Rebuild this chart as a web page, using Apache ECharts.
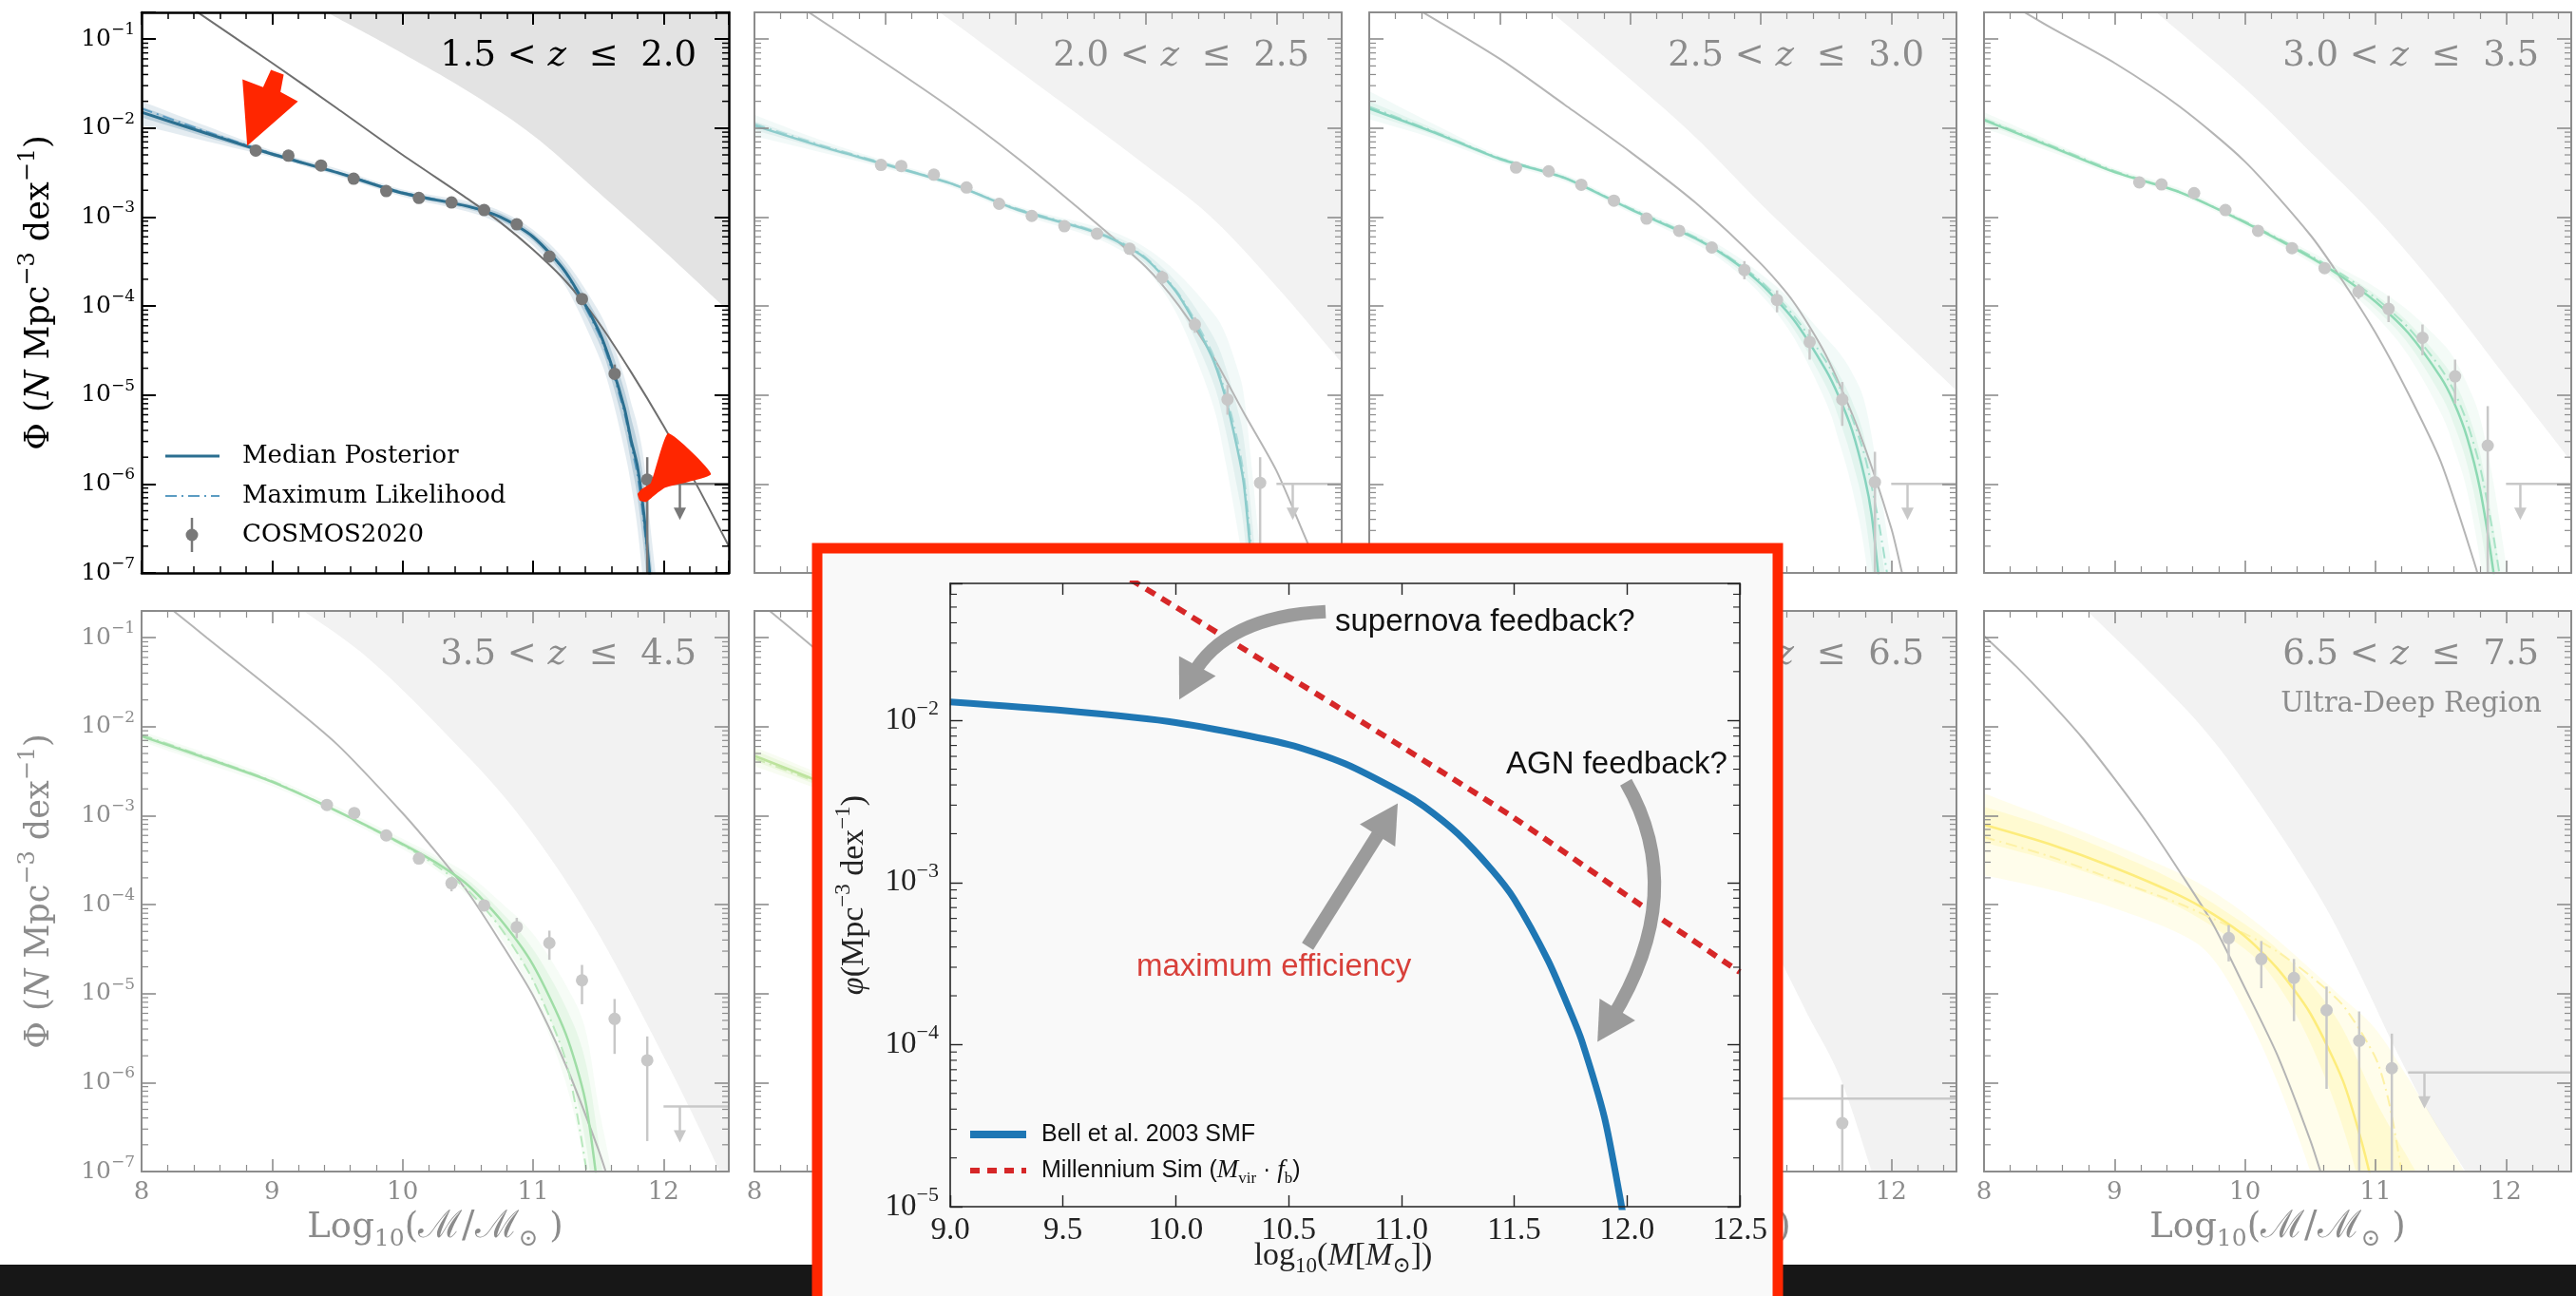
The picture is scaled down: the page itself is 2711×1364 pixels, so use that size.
<!DOCTYPE html>
<html><head><meta charset="utf-8"><title>Stellar mass functions</title>
<script src="https://cdn.jsdelivr.net/npm/echarts@6.0.0/dist/echarts.min.js"></script>
<style>html,body{margin:0;padding:0;background:#ffffff;}#chart{width:2711px;height:1364px;}</style>
</head><body><div id="chart"></div>
<script>
// ---------------- tick labels / categories ----------------
const massTicks = [8, 9, 10, 11, 12];
const insetMassTicks = [9.0, 9.5, 10.0, 10.5, 11.0, 11.5, 12.0, 12.5];
const zLow  = ['1.5', '2.0', '2.5', '3.0', '3.5', '4.5', '5.5', '6.5'];
const zHigh = ['2.0', '2.5', '3.0', '3.5', '4.5', '5.5', '6.5', '7.5'];
const legendLabels = ['Median Posterior', 'Maximum Likelihood', 'COSMOS2020'];

// ---------------- panel 1 : 1.5 < z <= 2.0 ----------------
const p1Median = [[8.0,1.51e-2],[8.5,8.7e-3],[9.0,5.1e-3],[9.5,3.16e-3],[10.0,1.86e-3],[10.5,1.32e-3],[10.75,1.0e-3],[11.0,6.0e-4],[11.25,2.4e-4],[11.5,5.4e-5],[11.6,2.2e-5],[11.7,7.1e-6],[11.75,3.16e-6],[11.8,1.58e-6],[11.85,4.5e-7],[11.9,7.9e-8],[12.0,2.5e-9]];
const p1MaxLike = [[8.0,1.66e-2],[8.5,9.1e-3],[9.0,5.2e-3],[9.5,3.16e-3],[10.0,1.9e-3],[10.5,1.32e-3],[10.75,1.0e-3],[11.0,6.0e-4],[11.25,2.34e-4],[11.5,5.0e-5],[11.6,2.0e-5],[11.7,6.3e-6],[11.75,2.8e-6],[11.8,1.26e-6],[11.85,3.55e-7],[11.9,6.3e-8]];
const p1Band68 = [[8.0,1.32e-2,1.74e-2],[8.5,7.9e-3,9.5e-3],[9.0,4.9e-3,5.4e-3],[9.5,3.0e-3,3.3e-3],[10.0,1.78e-3,1.95e-3],[10.5,1.23e-3,1.41e-3],[10.75,9.1e-4,1.1e-3],[11.0,5.4e-4,6.6e-4],[11.25,2.0e-4,2.8e-4],[11.5,4.0e-5,7.1e-5],[11.6,1.5e-5,3.16e-5],[11.7,4.2e-6,1.12e-5],[11.75,1.78e-6,5.6e-6],[11.8,7.1e-7,2.8e-6],[11.85,1.78e-7,1.0e-6],[11.9,3.2e-8,1.58e-7],[12.0,1e-9,6.3e-9]];
const p1Band95 = [[8.0,1.07e-2,2.0e-2],[8.5,7.1e-3,1.05e-2],[9.0,4.7e-3,5.6e-3],[9.5,2.9e-3,3.5e-3],[10.0,1.7e-3,2.04e-3],[10.5,1.15e-3,1.51e-3],[10.75,8.3e-4,1.17e-3],[11.0,4.8e-4,7.2e-4],[11.25,1.66e-4,3.2e-4],[11.5,2.8e-5,8.9e-5],[11.6,1.0e-5,4.2e-5],[11.7,2.4e-6,1.58e-5],[11.75,1.0e-6,8.3e-6],[11.8,3.2e-7,4.5e-6],[11.85,6.3e-8,1.78e-6],[11.9,1.26e-8,3.2e-7],[12.0,3.2e-10,1.58e-8]];
const p1Halo = [[8.3,2.7e-1],[9.0,5.4e-2],[9.5,1.66e-2],[10.0,5.0e-3],[10.5,1.6e-3],[10.75,8.7e-4],[11.0,4.3e-4],[11.25,1.9e-4],[11.5,6.6e-5],[11.75,1.82e-5],[12.0,4.5e-6],[12.25,1.0e-6],[12.5,2.0e-7]];
const p1Shade = [[9.3,2.5e-1],[9.42,2.0e-1],[9.75,1.1e-1],[10.0,6.9e-2],[10.5,2.6e-2],[11.0,8.3e-3],[11.5,1.9e-3],[12.0,4.2e-4],[12.5,8.7e-5]];
const p1Points = [[8.875,5.6e-3,5.3e-3,5.9e-3],[9.125,4.9e-3,4.7e-3,5.1e-3],[9.375,3.8e-3,3.6e-3,4.0e-3],[9.625,2.7e-3,2.6e-3,2.85e-3],[9.875,1.96e-3,1.87e-3,2.05e-3],[10.125,1.64e-3,1.56e-3,1.72e-3],[10.375,1.46e-3,1.39e-3,1.53e-3],[10.625,1.2e-3,1.14e-3,1.26e-3],[10.875,8.3e-4,7.8e-4,8.8e-4],[11.125,3.6e-4,3.3e-4,3.9e-4],[11.375,1.2e-4,1.08e-4,1.32e-4],[11.625,1.73e-5,1.5e-5,2.2e-5],[11.875,1.12e-6,5e-8,2.0e-6]];
const p1Limit = [[12.0,12.5,12.125,1.0e-6]];

// ---------------- panel 2 : 2.0 < z <= 2.5 ----------------
const p2Median = [[8.0,1.07e-2],[8.5,6.3e-3],[9.0,3.9e-3],[9.5,2.4e-3],[10.0,1.23e-3],[10.5,7.6e-4],[10.75,5.6e-4],[11.0,3.4e-4],[11.25,1.32e-4],[11.5,2.8e-5],[11.6,1.05e-5],[11.7,2.5e-6],[11.75,1.0e-6],[11.8,1.78e-7],[11.85,2.5e-8]];
const p2MaxLike = [[8.0,1.12e-2],[8.5,6.5e-3],[9.0,4.0e-3],[9.5,2.4e-3],[10.0,1.26e-3],[10.5,7.8e-4],[10.75,5.75e-4],[11.0,3.5e-4],[11.25,1.38e-4],[11.5,3.16e-5],[11.6,1.2e-5],[11.7,3.16e-6],[11.75,1.26e-6],[11.8,2.5e-7],[11.85,4.0e-8]];
const p2Band68 = [[8.0,9.5e-3,1.2e-2],[8.5,5.9e-3,6.8e-3],[9.0,3.7e-3,4.1e-3],[9.5,2.3e-3,2.5e-3],[10.0,1.17e-3,1.29e-3],[10.5,7.1e-4,8.1e-4],[10.75,5.1e-4,6.2e-4],[11.0,2.95e-4,3.9e-4],[11.25,1.0e-4,1.74e-4],[11.5,1.58e-5,5.0e-5],[11.6,4.7e-6,2.3e-5],[11.7,8.9e-7,7.1e-6],[11.75,3.2e-7,3.2e-6],[11.8,5.0e-8,6.3e-7],[11.85,6.3e-9,1.0e-7],[11.9,1e-9,1.6e-8]];
const p2Band95 = [[8.0,8.1e-3,1.41e-2],[8.5,5.4e-3,7.4e-3],[9.0,3.55e-3,4.3e-3],[9.5,2.2e-3,2.6e-3],[10.0,1.12e-3,1.35e-3],[10.5,6.6e-4,8.7e-4],[10.75,4.7e-4,6.8e-4],[11.0,2.6e-4,4.5e-4],[11.25,7.4e-5,2.3e-4],[11.5,8.9e-6,8.9e-5],[11.6,2.1e-6,5.2e-5],[11.7,3.2e-7,2.0e-5],[11.75,1.0e-7,1.0e-5],[11.8,1.4e-8,2.2e-6],[11.85,1.6e-9,4.0e-7],[11.9,2.5e-10,6.3e-8]];
const p2Halo = [[8.3,2.6e-1],[9.0,5.4e-2],[9.5,1.7e-2],[10.0,4.8e-3],[10.5,1.2e-3],[11.0,2.75e-4],[11.25,1.02e-4],[11.5,2.95e-5],[11.75,6.3e-6],[12.0,1.41e-6],[12.25,2.0e-7],[12.5,3.2e-8]];
const p2Shade = [[9.3,2.5e-1],[9.42,2.0e-1],[10.0,4.7e-2],[10.5,1.35e-2],[11.0,3.8e-3],[11.5,1.0e-3],[12.0,1.66e-4],[12.5,2.3e-5]];
const p2Points = [[8.97,3.86e-3,3.7e-3,4.0e-3],[9.125,3.75e-3,3.6e-3,3.9e-3],[9.375,3.0e-3,2.9e-3,3.1e-3],[9.625,2.15e-3,2.07e-3,2.23e-3],[9.875,1.41e-3,1.35e-3,1.47e-3],[10.125,1.03e-3,9.8e-4,1.08e-3],[10.375,7.9e-4,7.5e-4,8.3e-4],[10.625,6.5e-4,6.1e-4,6.9e-4],[10.875,4.4e-4,4.0e-4,4.8e-4],[11.125,2.1e-4,1.75e-4,2.5e-4],[11.375,6.2e-5,5.0e-5,7.5e-5],[11.625,8.9e-6,6.0e-6,1.3e-5],[11.875,1.03e-6,5e-8,2.0e-6]];
const p2Limit = [[12.0,12.5,12.125,1.0e-6]];

// ---------------- panel 3 : 2.5 < z <= 3.0 ----------------
const p3Median = [[8.0,1.66e-2],[8.5,8.9e-3],[9.0,4.5e-3],[9.5,2.75e-3],[10.0,1.23e-3],[10.5,5.75e-4],[10.75,3.5e-4],[11.0,1.78e-4],[11.25,7.1e-5],[11.5,1.9e-5],[11.6,9.5e-6],[11.7,4.0e-6],[11.8,1.12e-6],[11.85,4.5e-7],[11.9,1.0e-7],[12.0,5e-9]];
const p3MaxLike = [[8.0,1.74e-2],[8.5,9.1e-3],[9.0,4.6e-3],[9.5,2.75e-3],[10.0,1.26e-3],[10.5,5.9e-4],[10.75,3.6e-4],[11.0,1.9e-4],[11.25,7.9e-5],[11.5,2.4e-5],[11.6,1.26e-5],[11.7,5.6e-6],[11.8,2.0e-6],[11.9,4.0e-7],[12.0,5.0e-8]];
const p3Band68 = [[8.0,1.45e-2,2.0e-2],[8.5,8.3e-3,9.8e-3],[9.0,4.3e-3,4.7e-3],[9.5,2.6e-3,2.9e-3],[10.0,1.17e-3,1.29e-3],[10.5,5.4e-4,6.2e-4],[10.75,3.16e-4,3.8e-4],[11.0,1.55e-4,2.0e-4],[11.25,5.6e-5,8.9e-5],[11.5,1.26e-5,2.9e-5],[11.6,5.4e-6,1.7e-5],[11.7,1.86e-6,8.5e-6],[11.8,4.3e-7,3.0e-6],[11.9,2.8e-8,3.5e-7],[12.0,1e-9,2.5e-8]];
const p3Band95 = [[8.0,1.26e-2,2.6e-2],[8.5,7.6e-3,1.1e-2],[9.0,4.1e-3,4.9e-3],[9.5,2.5e-3,3.0e-3],[10.0,1.12e-3,1.35e-3],[10.5,5.0e-4,6.6e-4],[10.75,2.9e-4,4.2e-4],[11.0,1.35e-4,2.3e-4],[11.25,4.5e-5,1.12e-4],[11.5,8.3e-6,4.4e-5],[11.6,3.0e-6,3.0e-5],[11.7,8.9e-7,1.78e-5],[11.8,1.58e-7,7.9e-6],[11.9,7.9e-9,1.26e-6],[12.0,2e-10,1.26e-7]];
const p3Halo = [[8.3,2.5e-1],[9.0,6.0e-2],[9.5,1.82e-2],[10.0,5.4e-3],[10.5,1.45e-3],[11.0,3.0e-4],[11.25,1.12e-4],[11.5,2.8e-5],[11.75,4.0e-6],[12.0,3.2e-7],[12.1,7.9e-8],[12.25,1.26e-8]];
const p3Shade = [[9.3,2.6e-1],[9.4,2.0e-1],[10.0,3.55e-2],[10.5,7.9e-3],[11.0,1.41e-3],[11.5,2.8e-4],[12.0,5.6e-5],[12.5,1.12e-5]];
const p3Points = [[9.125,3.6e-3,3.45e-3,3.75e-3],[9.375,3.27e-3,3.13e-3,3.4e-3],[9.625,2.31e-3,2.2e-3,2.42e-3],[9.875,1.53e-3,1.46e-3,1.6e-3],[10.125,9.6e-4,9.1e-4,1.01e-3],[10.375,7.0e-4,6.6e-4,7.4e-4],[10.625,4.55e-4,4.2e-4,4.9e-4],[10.875,2.54e-4,2.0e-4,3.2e-4],[11.125,1.17e-4,8.5e-5,1.5e-4],[11.375,3.94e-5,2.5e-5,5.5e-5],[11.625,8.9e-6,4.5e-6,1.4e-5],[11.875,1.05e-6,5e-8,2.3e-6]];
const p3Limit = [[12.0,12.5,12.125,1.0e-6]];

// ---------------- panel 4 : 3.0 < z <= 3.5 ----------------
const p4Median = [[8.0,1.23e-2],[8.5,6.3e-3],[9.0,3.2e-3],[9.5,1.9e-3],[10.0,8.7e-4],[10.5,3.55e-4],[10.75,2.1e-4],[11.0,1.12e-4],[11.25,5.0e-5],[11.5,1.58e-5],[11.6,8.3e-6],[11.7,3.4e-6],[11.8,8.9e-7],[11.9,1.12e-7],[12.0,7.9e-9]];
const p4MaxLike = [[8.0,1.26e-2],[8.5,6.5e-3],[9.0,3.3e-3],[9.5,1.9e-3],[10.0,8.9e-4],[10.5,3.7e-4],[10.75,2.24e-4],[11.0,1.23e-4],[11.25,5.75e-5],[11.5,2.0e-5],[11.6,1.12e-5],[11.7,5.0e-6],[11.8,1.58e-6],[11.9,2.8e-7],[12.0,3.2e-8]];
const p4Band68 = [[8.0,1.12e-2,1.35e-2],[8.5,5.9e-3,6.8e-3],[9.0,3.1e-3,3.4e-3],[9.5,1.82e-3,2.0e-3],[10.0,8.3e-4,9.1e-4],[10.5,3.3e-4,3.8e-4],[10.75,1.86e-4,2.34e-4],[11.0,9.3e-5,1.35e-4],[11.25,3.8e-5,6.6e-5],[11.5,1.0e-5,2.5e-5],[11.6,4.7e-6,1.48e-5],[11.7,1.7e-6,6.8e-6],[11.8,3.55e-7,2.24e-6],[11.9,3.55e-8,3.55e-7],[12.0,2e-9,3.2e-8]];
const p4Band95 = [[8.0,1.0e-2,1.51e-2],[8.5,5.5e-3,7.2e-3],[9.0,2.95e-3,3.55e-3],[9.5,1.74e-3,2.1e-3],[10.0,7.9e-4,9.5e-4],[10.5,3.1e-4,4.1e-4],[10.75,1.66e-4,2.6e-4],[11.0,7.8e-5,1.62e-4],[11.25,2.8e-5,8.9e-5],[11.5,6.3e-6,4.0e-5],[11.6,2.6e-6,2.6e-5],[11.7,8.5e-7,1.35e-5],[11.8,1.41e-7,5.6e-6],[11.9,1.12e-8,1.12e-6],[12.0,5e-10,1.26e-7]];
const p4Halo = [[8.2,2.5e-1],[8.5,1.38e-1],[9.0,5.4e-2],[9.5,1.74e-2],[10.0,4.2e-3],[10.5,6.3e-4],[10.75,1.9e-4],[11.0,5.0e-5],[11.25,1.05e-5],[11.5,1.78e-6],[11.75,1.41e-7],[11.9,2.5e-8]];
const p4Shade = [[9.2,2.8e-1],[9.32,2.0e-1],[10.0,2.8e-2],[10.5,5.4e-3],[11.0,1.0e-3],[11.5,1.41e-4],[12.0,1.58e-5],[12.5,1.78e-6]];
const p4Points = [[9.19,2.45e-3,2.35e-3,2.55e-3],[9.36,2.33e-3,2.23e-3,2.43e-3],[9.61,1.86e-3,1.78e-3,1.94e-3],[9.85,1.2e-3,1.14e-3,1.26e-3],[10.1,7.0e-4,6.6e-4,7.4e-4],[10.36,4.47e-4,4.2e-4,4.75e-4],[10.61,2.67e-4,2.45e-4,2.9e-4],[10.87,1.45e-4,1.2e-4,1.75e-4],[11.1,9.3e-5,6.6e-5,1.3e-4],[11.36,4.4e-5,2.8e-5,6.2e-5],[11.61,1.62e-5,8e-6,2.5e-5],[11.86,2.7e-6,1e-7,7.5e-6]];
const p4Limit = [[12.0,12.5,12.11,1.0e-6]];

// ---------------- panel 5 : 3.5 < z <= 4.5 ----------------
const p5Median = [[8.0,7.8e-3],[8.5,4.4e-3],[9.0,2.4e-3],[9.5,1.12e-3],[10.0,4.8e-4],[10.25,3.0e-4],[10.5,1.66e-4],[10.75,6.8e-5],[11.0,2.1e-5],[11.25,3.55e-6],[11.4,6.3e-7],[11.5,5.6e-8]];
const p5MaxLike = [[8.0,8.1e-3],[8.5,4.5e-3],[9.0,2.45e-3],[9.5,1.12e-3],[10.0,4.7e-4],[10.25,2.8e-4],[10.5,1.45e-4],[10.75,5.5e-5],[11.0,1.41e-5],[11.25,1.78e-6],[11.4,1.26e-7],[11.5,1e-8]];
const p5Band68 = [[8.0,7.2e-3,8.3e-3],[8.5,4.1e-3,4.7e-3],[9.0,2.3e-3,2.5e-3],[9.5,1.07e-3,1.17e-3],[10.0,4.5e-4,5.1e-4],[10.25,2.75e-4,3.3e-4],[10.5,1.45e-4,1.9e-4],[10.75,5.4e-5,8.5e-5],[11.0,1.38e-5,3.16e-5],[11.25,1.78e-6,7.1e-6],[11.4,2.24e-7,1.78e-6],[11.5,1.4e-8,2.24e-7],[11.6,5e-10,1.58e-8]];
const p5Band95 = [[8.0,6.8e-3,8.9e-3],[8.5,3.8e-3,5.0e-3],[9.0,2.14e-3,2.7e-3],[9.5,1.0e-3,1.26e-3],[10.0,4.2e-4,5.5e-4],[10.25,2.5e-4,3.6e-4],[10.5,1.26e-4,2.2e-4],[10.75,4.3e-5,1.07e-4],[11.0,9.3e-6,4.7e-5],[11.25,1.0e-6,1.26e-5],[11.4,1.0e-7,4.0e-6],[11.5,5.6e-9,5.6e-7],[11.6,2e-10,1.0e-7],[11.7,1e-11,1e-8]];
const p5Halo = [[8.1,2.95e-1],[8.245,2.0e-1],[8.5,1.0e-1],[9.0,2.6e-2],[9.5,6.3e-3],[10.0,1.07e-3],[10.25,4.0e-4],[10.5,1.38e-4],[10.75,3.8e-5],[11.0,9.5e-6],[11.25,1.58e-6],[11.5,1.78e-7],[11.6,6.3e-8]];
const p5Shade = [[9.1,2.8e-1],[9.24,2.0e-1],[9.73,6.0e-2],[10.3,9.3e-3],[10.88,1.07e-3],[11.45,6.3e-5],[12.03,1.62e-6],[12.43,1.0e-7],[12.6,2.5e-8]];
const p5Points = [[9.42,1.32e-3,1.26e-3,1.38e-3],[9.63,1.07e-3,1.02e-3,1.12e-3],[9.875,6.0e-4,5.7e-4,6.3e-4],[10.125,3.3e-4,3.1e-4,3.5e-4],[10.375,1.74e-4,1.41e-4,1.9e-4],[10.625,9.8e-5,8.7e-5,1.1e-4],[10.875,5.6e-5,4.2e-5,7.1e-5],[11.125,3.7e-5,2.4e-5,5.1e-5],[11.375,1.41e-5,7.6e-6,2.1e-5],[11.625,5.2e-6,2.1e-6,8.7e-6],[11.875,1.78e-6,2.2e-7,3.3e-6]];
const p5Limit = [[12.0,12.5,12.125,5.4e-7]];

// ---------------- panel 6 : 4.5 < z <= 5.5 (mostly behind the inset) ----------------
const p6Median = [[8.0,4.7e-3],[8.5,2.4e-3],[9.0,1.12e-3],[9.5,5.0e-4],[10.0,2.0e-4],[10.5,6.3e-5],[11.0,7.9e-6],[11.25,1.26e-6],[11.5,7.9e-8]];
const p6MaxLike = [[8.0,4.4e-3],[8.5,2.3e-3],[9.0,1.07e-3],[9.5,4.8e-4],[10.0,1.9e-4],[10.5,5.6e-5],[11.0,6.3e-6],[11.25,8.9e-7],[11.5,5.0e-8]];
const p6Band68 = [[8.0,4.1e-3,5.4e-3],[8.5,2.14e-3,2.7e-3],[9.0,1.02e-3,1.23e-3],[9.5,4.6e-4,5.5e-4],[10.0,1.74e-4,2.3e-4],[10.5,5.0e-5,7.9e-5],[11.0,4.5e-6,1.41e-5],[11.25,5.0e-7,3.16e-6],[11.5,2e-8,3.16e-7]];
const p6Band95 = [[8.0,3.6e-3,5.9e-3],[8.5,1.95e-3,2.95e-3],[9.0,9.5e-4,1.32e-3],[9.5,4.3e-4,5.9e-4],[10.0,1.51e-4,2.6e-4],[10.5,3.55e-5,1.12e-4],[11.0,2.5e-6,2.5e-5],[11.25,2e-7,7.9e-6],[11.5,5e-9,1e-6]];
const p6Halo = [[8.0,2.75e-1],[8.117,2.0e-1],[8.43,8.3e-2],[9.0,1.58e-2],[9.5,3.16e-3],[10.0,5.0e-4],[10.5,5.0e-5],[11.0,2.5e-6],[11.3,2.5e-7],[11.5,5e-8]];
const p6Shade = [[9.1,2.5e-1],[9.2,2.0e-1],[10.0,1.26e-2],[10.5,1.78e-3],[11.0,1.58e-4],[11.5,1e-5],[12.0,5e-7],[12.3,6.3e-8]];
const p6Points = [];
const p6Limit = [];

// ---------------- panel 7 : 5.5 < z <= 6.5 (mostly behind the inset) ----------------
const p7Median = [], p7MaxLike = [], p7Band68 = [], p7Band95 = [], p7Halo = [];
const p7Shade = [[9.0,2.5e-1],[10.0,6.3e-3],[10.5,6.3e-4],[11.0,6.3e-5],[11.17,2.1e-5],[11.36,5.8e-6],[11.61,1.12e-6],[11.85,1.0e-7],[12.0,2e-8]];
const p7Points = [[11.625,3.5e-7,5e-8,9.5e-7]];
const p7Limit = [[10.9,12.5,11.0,6.6e-7]];

// ---------------- panel 8 : 6.5 < z <= 7.5 ----------------
const p8Median = [[8.0,7.9e-4],[8.5,4.8e-4],[9.0,2.6e-4],[9.5,1.26e-4],[9.75,7.9e-5],[10.0,4.4e-5],[10.25,1.9e-5],[10.5,6.0e-6],[10.75,1.05e-6],[10.9,2.0e-7],[11.0,5.0e-8]];
const p8MaxLike = [[8.0,5.75e-4],[8.5,3.5e-4],[9.0,1.9e-4],[9.5,1.02e-4],[10.0,4.7e-5],[10.25,2.95e-5],[10.5,1.58e-5],[10.75,7.4e-6],[11.0,1.9e-6],[11.1,6.3e-7],[11.2,1.0e-7],[11.3,1e-8]];
const p8Band68 = [[8.0,5.0e-4,1.26e-3],[8.5,3.16e-4,7.4e-4],[9.0,1.78e-4,3.8e-4],[9.5,9.3e-5,1.74e-4],[10.0,3.16e-5,6.0e-5],[10.25,1.26e-5,3.16e-5],[10.5,2.8e-6,1.32e-5],[10.75,3.16e-7,4.0e-6],[11.0,1.58e-8,6.3e-7],[11.25,1e-9,1.41e-7],[11.35,3e-10,7.9e-8]];
const p8Band95 = [[8.0,2.14e-4,1.78e-3],[8.5,1.48e-4,9.3e-4],[9.0,9.1e-5,4.7e-4],[9.5,4.7e-5,2.24e-4],[9.75,2.5e-5,1.41e-4],[10.0,6.3e-6,7.9e-5],[10.25,1.0e-6,4.0e-5],[10.5,1.0e-7,1.9e-5],[10.75,6.3e-9,8.9e-6],[11.0,3e-10,4.0e-6],[11.25,3e-11,1.12e-6],[11.5,1e-11,2.8e-7],[11.7,3e-12,8.9e-8]];
const p8Halo = [[8.0,1.05e-1],[8.25,4.7e-2],[8.5,1.95e-2],[8.75,7.6e-3],[9.0,2.6e-3],[9.25,8.3e-4],[9.5,2.34e-4],[9.75,6.2e-5],[10.0,1.15e-5],[10.25,2.0e-6],[10.5,2.24e-7],[10.6,7.9e-8]];
const p8Shade = [[8.7,2.6e-1],[8.79,2.0e-1],[9.3,3.7e-2],[9.73,7.8e-3],[10.16,1.07e-3],[10.59,1.1e-4],[10.88,1.66e-5],[11.14,2.6e-6],[11.4,4.8e-7],[11.69,1.0e-7],[11.9,3.2e-8]];
const p8Points = [[9.875,4.2e-5,2.3e-5,5.9e-5],[10.125,2.45e-5,1.15e-5,3.9e-5],[10.375,1.5e-5,4.9e-6,2.45e-5],[10.625,6.5e-6,8.5e-7,1.2e-5],[10.875,2.95e-6,5e-8,6.3e-6],[11.125,1.45e-6,5e-8,3.55e-6]];
const p8Limit = [[11.25,12.5,11.375,1.3e-6]];

// ---------------- inset : Bell et al. 2003 vs Millennium ----------------
const bellSMF = [[9.0,1.3e-2],[9.5,1.15e-2],[10.0,9.7e-3],[10.5,7.1e-3],[10.75,5.4e-3],[11.0,3.6e-3],[11.1,2.95e-3],[11.25,2.0e-3],[11.4,1.2e-3],[11.5,7.9e-4],[11.65,3.3e-4],[11.75,1.58e-4],[11.8,1.05e-4],[11.9,3.55e-5],[11.97,1.12e-5],[12.0,6.3e-6]];
const millenniumSim = [[9.8,7.4e-2],[10.0,5.0e-2],[10.5,1.86e-2],[11.0,6.9e-3],[11.5,2.5e-3],[12.0,8.3e-4],[12.5,2.8e-4]];

// ---------------- assembly tables ----------------
const PANELS = [
  {median:p1Median, ml:p1MaxLike, b68:p1Band68, b95:p1Band95, halo:p1Halo, shade:p1Shade, pts:p1Points, lim:p1Limit},
  {median:p2Median, ml:p2MaxLike, b68:p2Band68, b95:p2Band95, halo:p2Halo, shade:p2Shade, pts:p2Points, lim:p2Limit},
  {median:p3Median, ml:p3MaxLike, b68:p3Band68, b95:p3Band95, halo:p3Halo, shade:p3Shade, pts:p3Points, lim:p3Limit},
  {median:p4Median, ml:p4MaxLike, b68:p4Band68, b95:p4Band95, halo:p4Halo, shade:p4Shade, pts:p4Points, lim:p4Limit},
  {median:p5Median, ml:p5MaxLike, b68:p5Band68, b95:p5Band95, halo:p5Halo, shade:p5Shade, pts:p5Points, lim:p5Limit},
  {median:p6Median, ml:p6MaxLike, b68:p6Band68, b95:p6Band95, halo:p6Halo, shade:p6Shade, pts:p6Points, lim:p6Limit},
  {median:p7Median, ml:p7MaxLike, b68:p7Band68, b95:p7Band95, halo:p7Halo, shade:p7Shade, pts:p7Points, lim:p7Limit},
  {median:p8Median, ml:p8MaxLike, b68:p8Band68, b95:p8Band95, halo:p8Halo, shade:p8Shade, pts:p8Points, lim:p8Limit}
];

// styles (kept separate from data)
const FIT_COLORS = ['#2b6f90','#8ccbcb','#86d3be','#8dd9b3','#9fdda6','#bde39d','#d9ea8e','#fdec7c'];
const ML_COLORS  = ['#5b9cc2','#a8d9d8','#a3dfcd','#a8e3c6','#b8e8bd','#cdeab3','#e3efb0','#fdf1a5'];
const B68_COLORS = ['rgba(43,111,144,0.22)','rgba(33,145,140,0.08)','rgba(39,173,129,0.08)','rgba(63,188,115,0.08)','rgba(94,201,98,0.09)','rgba(150,215,70,0.10)','rgba(200,225,50,0.10)','rgba(253,231,37,0.13)'];
const B95_COLORS = ['rgba(43,111,144,0.13)','rgba(33,145,140,0.06)','rgba(39,173,129,0.06)','rgba(63,188,115,0.06)','rgba(94,201,98,0.06)','rgba(150,215,70,0.07)','rgba(200,225,50,0.07)','rgba(253,231,37,0.09)'];

const COL_LEFT = [149, 794, 1441, 2088], ROW_TOP = [13, 643], PW = 618, PH = 590;
const INSET = {left: 1000, top: 614, width: 831, height: 656};
const SERIF = 'DejaVu Serif';
const ISERIF = "'Liberation Serif', 'DejaVu Serif', serif";
const ISANS = "'Liberation Sans', Arial, sans-serif";

function styleFor(i) {
  const on = i === 0;
  return {frame: on ? '#000000' : '#8c8c8c', frameW: on ? 2.5 : 2, tickW: on ? 2 : 1.6, minorW: on ? 1.5 : 1.2,
          text: on ? '#000000' : '#8c8c8c', halo: on ? '#6f6f6f' : '#b5b5b5', shade: on ? '#e3e3e3' : '#f2f2f2',
          pt: on ? '#787878' : '#c8c8c8'};
}

function powLabel(v) {
  const e = Math.log10(v), r = Math.round(e);
  if (Math.abs(e - r) > 1e-6) return '';
  return '{b|10}{s|\u2212' + Math.abs(r) + '}';
}

// Catmull-Rom smoothing of an already-projected pixel polyline (rendering only)
function crSmooth(pts, steps) {
  if (pts.length < 3) return pts.slice();
  const out = [];
  for (let i = 0; i < pts.length - 1; i++) {
    const p0 = pts[Math.max(0, i - 1)], p1 = pts[i], p2 = pts[i + 1], p3 = pts[Math.min(pts.length - 1, i + 2)];
    for (let s = 0; s < steps; s++) {
      const t = s / steps, t2 = t * t, t3 = t2 * t;
      out.push([0, 1].map(k => 0.5 * (2 * p1[k] + (-p0[k] + p2[k]) * t + (2 * p0[k] - 5 * p1[k] + 4 * p2[k] - p3[k]) * t2 + (-p0[k] + 3 * p1[k] - 3 * p2[k] + p3[k]) * t3)));
    }
  }
  out.push(pts[pts.length - 1].slice());
  return out;
}

function xAxisOpt(gi, pos, showLabel, st) {
  return {gridIndex: gi, type: 'value', position: pos, min: 8, max: 12.5, interval: 1, z: 10,
    axisLine: {show: true, onZero: false, lineStyle: {color: st.frame, width: st.frameW}},
    axisTick: {show: true, inside: true, length: 13, lineStyle: {color: st.frame, width: st.tickW}},
    minorTick: {show: true, splitNumber: 5, length: 7, lineStyle: {color: st.frame, width: st.minorW}},
    splitLine: {show: false}, minorSplitLine: {show: false},
    axisLabel: {show: showLabel, margin: 9, hideOverlap: false, fontFamily: SERIF, fontSize: 26, color: st.text,
      formatter: v => massTicks.indexOf(v) >= 0 ? String(v) : ''}
  };
}
function yAxisOpt(gi, pos, showLabel, st) {
  return {gridIndex: gi, type: 'log', logBase: 10, position: pos, min: 1e-7, max: 0.2, z: 10,
    axisLine: {show: true, onZero: false, lineStyle: {color: st.frame, width: st.frameW}},
    axisTick: {show: true, inside: true, length: 15, lineStyle: {color: st.frame, width: st.tickW}},
    minorTick: {show: false}, splitLine: {show: false},
    axisLabel: {show: showLabel, margin: 7, hideOverlap: false, formatter: powLabel,
      rich: {b: {fontFamily: SERIF, fontSize: 25, lineHeight: 36, color: st.text},
             s: {fontFamily: SERIF, fontSize: 17, lineHeight: 17, verticalAlign: 'top', color: st.text}}}
  };
}

function shadeSeries(ax, rows, color) {
  return {type: 'custom', xAxisIndex: ax, yAxisIndex: ax, z: 1, silent: true, clip: true, data: rows, encode: {x: 0, y: 1},
    renderItem(params, api) {
      if (params.dataIndex !== 0) return null;
      const cs = params.coordSys;
      const pts = crSmooth(rows.map(r => api.coord([r[0], r[1]])), 10);
      const last = pts[pts.length - 1];
      pts.push([cs.x + cs.width + 6, last[1]], [cs.x + cs.width + 6, cs.y - 6], [pts[0][0], cs.y - 6]);
      return {type: 'polygon', shape: {points: pts}, style: {fill: color}};
    }};
}
function bandSeries(ax, rows, color, z) {
  return {type: 'custom', xAxisIndex: ax, yAxisIndex: ax, z: z, silent: true, clip: true, data: rows, encode: {x: 0, y: [1, 2]},
    renderItem(params, api) {
      if (params.dataIndex !== 0) return null;
      const up = crSmooth(rows.map(r => api.coord([r[0], r[2]])), 8);
      const lo = crSmooth(rows.map(r => api.coord([r[0], r[1]])), 8).reverse();
      return {type: 'polygon', shape: {points: up.concat(lo)}, style: {fill: color}};
    }};
}
function lineSeries(ax, data, color, width, dash, z, zl) {
  return {type: 'line', xAxisIndex: ax, yAxisIndex: ax, data: data, showSymbol: false, symbol: 'none', smooth: 0.25,
    clip: true, z: z, zlevel: zl || 0, silent: true, lineStyle: {color: color, width: width, type: dash || 'solid'}};
}
function pointSeries(ax, rows, color) {
  return {type: 'custom', xAxisIndex: ax, yAxisIndex: ax, z: 6, silent: true, clip: true, data: rows, encode: {x: 0, y: [1, 2, 3]},
    renderItem(params, api) {
      const x = api.value(0);
      const c = api.coord([x, api.value(1)]), lo = api.coord([x, api.value(2)]), hi = api.coord([x, api.value(3)]);
      return {type: 'group', children: [
        {type: 'line', shape: {x1: c[0], y1: lo[1], x2: c[0], y2: hi[1]}, style: {stroke: color, lineWidth: 2.5}},
        {type: 'circle', shape: {cx: c[0], cy: c[1], r: 6.5}, style: {fill: color}}
      ]};
    }};
}
function limitSeries(ax, rows, color) {
  return {type: 'custom', xAxisIndex: ax, yAxisIndex: ax, z: 6, silent: true, clip: true, data: rows, encode: {x: [0, 1, 2], y: 3},
    renderItem(params, api) {
      const v = api.value(3);
      const a = api.coord([api.value(0), v]), b = api.coord([api.value(1), v]), m = api.coord([api.value(2), v]);
      return {type: 'group', children: [
        {type: 'line', shape: {x1: a[0], y1: a[1], x2: b[0], y2: b[1]}, style: {stroke: color, lineWidth: 2.5}},
        {type: 'line', shape: {x1: m[0], y1: m[1], x2: m[0], y2: m[1] + 28}, style: {stroke: color, lineWidth: 2.5}},
        {type: 'polygon', shape: {points: [[m[0] - 6.5, m[1] + 25], [m[0] + 6.5, m[1] + 25], [m[0], m[1] + 38]]}, style: {fill: color}}
      ]};
    }};
}
function minorTickSeries(ax, xRef, ymin, ymax, color, width, zl) {
  return {type: 'custom', xAxisIndex: ax, yAxisIndex: ax, z: 11, zlevel: zl || 0, silent: true, clip: false,
    data: [[xRef, ymin * 10]], encode: {x: 0, y: 1},
    renderItem(params, api) {
      const cs = params.coordSys, ch = [];
      for (let e = -9; e <= 0; e++) {
        for (let k = 2; k <= 9; k++) {
          const v = k * Math.pow(10, e);
          if (v <= ymin * 1.0001 || v >= ymax * 0.9999) continue;
          const y = api.coord([xRef, v])[1];
          ch.push({type: 'line', shape: {x1: cs.x, y1: y, x2: cs.x + 7, y2: y}, style: {stroke: color, lineWidth: width}});
          ch.push({type: 'line', shape: {x1: cs.x + cs.width - 7, y1: y, x2: cs.x + cs.width, y2: y}, style: {stroke: color, lineWidth: width}});
        }
      }
      return {type: 'group', children: ch};
    }};
}

// ---------------- build option ----------------
const grids = [], xAxes = [], yAxes = [], series = [];
for (let i = 0; i < 8; i++) {
  const st = styleFor(i), row = Math.floor(i / 4), col = i % 4, ax = 2 * i, P = PANELS[i];
  grids.push({left: COL_LEFT[col], top: ROW_TOP[row], width: PW, height: PH, outerBoundsMode: 'none'});
  xAxes.push(xAxisOpt(i, 'bottom', row === 1, st), xAxisOpt(i, 'top', false, st));
  yAxes.push(yAxisOpt(i, 'left', col === 0, st), yAxisOpt(i, 'right', false, st));
  if (P.shade.length) series.push(shadeSeries(ax, P.shade, st.shade));
  if (P.b95.length) series.push(bandSeries(ax, P.b95, B95_COLORS[i], 2));
  if (P.b68.length) series.push(bandSeries(ax, P.b68, B68_COLORS[i], 2));
  if (P.halo.length) series.push(lineSeries(ax, P.halo, st.halo, 2, null, 3));
  if (P.ml.length) series.push(lineSeries(ax, P.ml, ML_COLORS[i], 2, [12, 5, 2, 5], 4));
  if (P.median.length) series.push(lineSeries(ax, P.median, FIT_COLORS[i], i === 0 ? 3 : 2.5, null, 4));
  if (P.pts.length) series.push(pointSeries(ax, P.pts, st.pt));
  if (P.lim.length) series.push(limitSeries(ax, P.lim, st.pt));
  series.push(minorTickSeries(ax, 8.5, 1e-7, 0.2, st.frame, st.minorW));
}
// inset grid (index 8, axes 16/17)
const IST = {frame: '#222222', frameW: 1.6, tickW: 1.4, minorW: 1.1, text: '#222222'};
grids.push({left: INSET.left, top: INSET.top, width: INSET.width, height: INSET.height, zlevel: 1, outerBoundsMode: 'none'});
function insetX(pos, showLabel) {
  return {gridIndex: 8, type: 'value', position: pos, min: 9, max: 12.5, interval: 0.5, z: 10, zlevel: 1,
    axisLine: {show: true, onZero: false, lineStyle: {color: IST.frame, width: IST.frameW}},
    axisTick: {show: true, inside: true, length: 12, lineStyle: {color: IST.frame, width: IST.tickW}},
    minorTick: {show: false}, splitLine: {show: false},
    axisLabel: {show: showLabel, margin: 9, hideOverlap: false, fontFamily: ISERIF, fontSize: 33, color: IST.text,
      formatter: v => insetMassTicks.some(t => Math.abs(t - v) < 1e-9) ? v.toFixed(1) : ''}};
}
function insetY(pos, showLabel) {
  return {gridIndex: 8, type: 'log', logBase: 10, position: pos, min: 1e-5, max: 0.07, z: 10, zlevel: 1,
    axisLine: {show: true, onZero: false, lineStyle: {color: IST.frame, width: IST.frameW}},
    axisTick: {show: true, inside: true, length: 13, lineStyle: {color: IST.frame, width: IST.tickW}},
    minorTick: {show: false}, splitLine: {show: false},
    axisLabel: {show: showLabel, margin: 12, hideOverlap: false, formatter: powLabel,
      rich: {b: {fontFamily: ISERIF, fontSize: 33, lineHeight: 46, color: IST.text},
             s: {fontFamily: ISERIF, fontSize: 22, lineHeight: 22, verticalAlign: 'top', color: IST.text}}}};
}
xAxes.push(insetX('bottom', true), insetX('top', false));
yAxes.push(insetY('left', true), insetY('right', false));
series.push(lineSeries(16, bellSMF, '#1f77b4', 7, null, 4, 1));
series.push(lineSeries(16, millenniumSim, '#d62728', 6, [11, 8], 4, 1));
series.push(minorTickSeries(16, 9.5, 1e-5, 0.07, IST.frame, IST.minorW, 1));

const chart = echarts.init(document.getElementById('chart'), null, {renderer: 'canvas', width: 2711, height: 1364});
chart.setOption({animation: false, backgroundColor: '#ffffff', grid: grids, xAxis: xAxes, yAxis: yAxes, series: series});

// ---------------- annotations (graphic) ----------------
function px(ax, x, y) { return chart.convertToPixel({xAxisIndex: ax, yAxisIndex: ax}, [x, y]); }
const G = [];
function text(x, y, str, rich, opts) {
  const o = Object.assign({align: 'left', verticalAlign: 'middle', rotation: 0, zlevel: 0, z: 30}, opts || {});
  G.push({type: 'text', x: x, y: y, rotation: o.rotation, zlevel: o.zlevel, z: o.z, silent: true,
    style: {text: str, rich: rich, align: o.align, verticalAlign: o.verticalAlign, fill: o.fill || '#000',
            fontFamily: o.fontFamily || SERIF, fontSize: o.fontSize || 26}});
}
// redshift labels
for (let i = 0; i < 8; i++) {
  const st = styleFor(i), row = Math.floor(i / 4), col = i % 4;
  const R = COL_LEFT[col] + PW - 34, Y = ROW_TOP[row] + 46;
  text(R, Y, '{n|' + zLow[i] + ' < }{i|z}{n|  \u2264  ' + zHigh[i] + '}', {
    n: {fontFamily: SERIF, fontSize: 37, fill: st.text},
    i: {fontFamily: SERIF, fontStyle: 'italic', fontSize: 37, fill: st.text}}, {align: 'right'});
}
text(COL_LEFT[3] + PW - 31, ROW_TOP[1] + 98, 'Ultra-Deep Region', null, {align: 'right', fill: '#8c8c8c', fontSize: 29});

// axis names
function yName(cx, cy, color) {
  text(cx, cy, '{r|\u03a6 (}{i|N}{r| Mpc}{s|\u22123}{r| dex}{s|\u22121}{r|)}', {
    r: {fontFamily: SERIF, fontSize: 35, lineHeight: 48, fill: color},
    i: {fontFamily: SERIF, fontStyle: 'italic', fontSize: 35, lineHeight: 48, fill: color},
    s: {fontFamily: SERIF, fontSize: 24, lineHeight: 24, verticalAlign: 'top', fill: color}},
    {align: 'center', rotation: Math.PI / 2});
}
yName(42, ROW_TOP[0] + PH / 2, '#000000');
yName(42, ROW_TOP[1] + PH / 2, '#8c8c8c');
for (let c = 0; c < 4; c++) {
  text(COL_LEFT[c] + PW / 2, 1292, '{r|Log}{sub|10}{r|(}{m|\u2133/\u2133}{sub|\u2299}{r| )}', {
    r: {fontFamily: SERIF, fontSize: 37, lineHeight: 50, fill: '#8c8c8c'},
    m: {fontFamily: SERIF, fontSize: 40, lineHeight: 50, fill: '#8c8c8c'},
    sub: {fontFamily: SERIF, fontSize: 25, lineHeight: 25, verticalAlign: 'bottom', fill: '#8c8c8c'}},
    {align: 'center'});
}

// panel-1 legend
const lgX = COL_LEFT[0] + 25, lgT = COL_LEFT[0] + 106, lgY = [480, 522, 563];
G.push({type: 'line', z: 30, silent: true, shape: {x1: lgX, y1: lgY[0], x2: lgX + 57, y2: lgY[0]}, style: {stroke: FIT_COLORS[0], lineWidth: 3}});
G.push({type: 'line', z: 30, silent: true, shape: {x1: lgX, y1: lgY[1], x2: lgX + 57, y2: lgY[1]}, style: {stroke: ML_COLORS[0], lineWidth: 2.2, lineDash: [12, 5, 2, 5]}});
G.push({type: 'line', z: 30, silent: true, shape: {x1: lgX + 28, y1: lgY[2] - 18, x2: lgX + 28, y2: lgY[2] + 18}, style: {stroke: '#787878', lineWidth: 2.5}});
G.push({type: 'circle', z: 30, silent: true, shape: {cx: lgX + 28, cy: lgY[2], r: 6.5}, style: {fill: '#787878'}});
for (let k = 0; k < 3; k++) text(lgT, lgY[k], legendLabels[k], null, {fontSize: 26});

// red highlight arrows in panel 1 (anchored at the data points they point to)
const RED = '#ff2600';
const a1 = px(0, p1Points[0][0], p1Points[0][1]);
const a1pts = [[0,0],[53.4,-46.6],[35,-56.6],[38.4,-75],[25,-80],[16.7,-61.6],[-5,-70]].map(p => [a1[0] - 9 + p[0], a1[1] - 5 + p[1]]);
G.push({type: 'polygon', z: 40, silent: true, shape: {points: a1pts}, style: {fill: RED}});
const lastP = p1Points[p1Points.length - 1];
const a2 = px(0, lastP[0], lastP[1]);
const a2pts = [[22.1,-48.7],[67.1,-5.7],[18.8,8.6],[7.1,17],[-1.2,23.6],[-7.9,22],[-10.2,15.3],[-6.2,10.3],[3.8,3.6]].map(p => [a2[0] + p[0], a2[1] + p[1]]);
G.push({type: 'polygon', z: 40, silent: true, shape: {points: a2pts, smooth: 0.15}, style: {fill: RED}});

// dark strip at the bottom of the frame
G.push({type: 'rect', z: 50, silent: true, shape: {x: 0, y: 1331, width: 2711, height: 40}, style: {fill: '#171717'}});

// inset panel: background + red frame
G.push({type: 'rect', zlevel: 1, z: 0, silent: true, shape: {x: 860, y: 577, width: 1011, height: 800}, style: {fill: '#f9f9f9', stroke: RED, lineWidth: 11}});
// inset legend
G.push({type: 'line', zlevel: 1, z: 20, silent: true, shape: {x1: 1021, y1: 1194, x2: 1080, y2: 1194}, style: {stroke: '#1f77b4', lineWidth: 8}});
G.push({type: 'line', zlevel: 1, z: 20, silent: true, shape: {x1: 1021, y1: 1232, x2: 1080, y2: 1232}, style: {stroke: '#d62728', lineWidth: 6, lineDash: [10, 8]}});
text(1096, 1194, 'Bell et al. 2003 SMF', null, {zlevel: 1, fontFamily: ISANS, fontSize: 25, fill: '#111111'});
text(1096, 1232, '{r|Millennium Sim (}{i|M}{sb|vir}{r| \u00b7 }{i|f}{sb|b}{r|)}', {
  r: {fontFamily: ISANS, fontSize: 25, lineHeight: 34, fill: '#111111'},
  i: {fontFamily: ISERIF, fontStyle: 'italic', fontSize: 27, lineHeight: 34, fill: '#111111'},
  sb: {fontFamily: ISERIF, fontSize: 17, lineHeight: 17, verticalAlign: 'bottom', fill: '#111111'}}, {zlevel: 1});
// inset annotations
text(1405, 655, 'supernova feedback?', null, {zlevel: 1, fontFamily: ISANS, fontSize: 33, fill: '#111111'});
text(1585, 805, 'AGN feedback?', null, {zlevel: 1, fontFamily: ISANS, fontSize: 33, fill: '#111111'});
text(1196, 1018, 'maximum efficiency', null, {zlevel: 1, fontFamily: ISANS, fontSize: 33, fill: '#d8403a'});
// inset axis names
text(INSET.left + INSET.width / 2 - 2, 1322, '{r|log}{sb|10}{r|(}{i|M}{r|[}{i|M}{sb|\u2299}{r|])}', {
  r: {fontFamily: ISERIF, fontSize: 34, lineHeight: 44, fill: '#222222'},
  i: {fontFamily: ISERIF, fontStyle: 'italic', fontSize: 34, lineHeight: 44, fill: '#222222'},
  sb: {fontFamily: ISERIF, fontSize: 23, lineHeight: 23, verticalAlign: 'bottom', fill: '#222222'}}, {zlevel: 1, align: 'center'});
text(899, 942, '{i|\u03c6}{r|(Mpc}{s|\u22123}{r| dex}{s|\u22121}{r|)}', {
  r: {fontFamily: ISERIF, fontSize: 34, lineHeight: 46, fill: '#222222'},
  i: {fontFamily: ISERIF, fontStyle: 'italic', fontSize: 34, lineHeight: 46, fill: '#222222'},
  s: {fontFamily: ISERIF, fontSize: 23, lineHeight: 23, verticalAlign: 'top', fill: '#222222'}}, {zlevel: 1, align: 'center', rotation: Math.PI / 2});

// grey curved arrows (defined in inset data coordinates)
function greyArrow(d0, dc, d2) {
  const p0 = px(16, d0[0], d0[1]), pc = px(16, dc[0], dc[1]), p2 = px(16, d2[0], d2[1]);
  const dx = p2[0] - pc[0], dy = p2[1] - pc[1], L = Math.hypot(dx, dy), ux = dx / L, uy = dy / L;
  const hl = 40, hw = 44;
  const base = [p2[0] - ux * hl, p2[1] - uy * hl];
  const end = [p2[0] - ux * hl * 0.7, p2[1] - uy * hl * 0.7];
  G.push({type: 'bezierCurve', zlevel: 1, z: 15, silent: true,
    shape: {x1: p0[0], y1: p0[1], x2: end[0], y2: end[1], cpx1: pc[0], cpy1: pc[1]},
    style: {stroke: '#9b9b9b', lineWidth: 14, fill: 'none'}});
  G.push({type: 'polygon', zlevel: 1, z: 15, silent: true,
    shape: {points: [[p2[0], p2[1]], [base[0] - uy * hw / 2, base[1] + ux * hw / 2], [base[0] + uy * hw / 2, base[1] - ux * hw / 2]]},
    style: {fill: '#9b9b9b'}});
}
greyArrow([10.664, 0.0469], [10.216, 0.0438], [10.015, 0.01346]);
greyArrow([10.584, 4.04e-4], [10.784, 1.12e-3], [10.984, 3.08e-3]);
greyArrow([11.995, 4.15e-3], [12.277, 8.67e-4], [11.869, 1.04e-4]);

chart.setOption({graphic: {elements: G}});
</script></body></html>
